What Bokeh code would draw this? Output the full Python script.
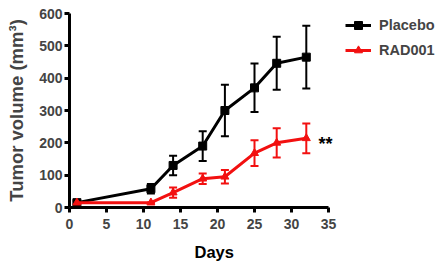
from bokeh.plotting import figure
from bokeh.models import Whisker, ColumnDataSource, Range1d, Legend, LegendItem, FixedTicker, TeeHead, Label, Title
from bokeh.embed import file_html
from bokeh.resources import INLINE

days = [1, 11, 14, 18, 21, 25, 28, 32]
placebo = [15, 58, 130, 190, 300, 370, 446, 465]
placebo_err = [5, 15, 30, 46, 80, 75, 82, 97]
rad001 = [15, 15, 46, 89, 95, 168, 200, 214]
rad001_err = [4, 0, 16, 16, 21, 40, 45, 46]
x_ticks = [0, 5, 10, 15, 20, 25, 30, 35]
y_ticks = [0, 100, 200, 300, 400, 500, 600]

BLACK = "#000000"
RED = "#f21010"
FONT = "Liberation Sans"

# layout (pixels)
W, H = 440, 272
LEFT, TOP, BOTTOM = 69, 13, 65
FRAME_W = W - LEFT
X_PX = 259.0   # pixels spanned by 0..35
x_end = x_ticks[-1] * FRAME_W / X_PX

p = figure(width=W, height=H, output_backend="svg", toolbar_location=None,
           x_range=Range1d(0, x_end), y_range=Range1d(y_ticks[0], y_ticks[-1]),
           min_border_left=LEFT, min_border_right=0, min_border_top=TOP, min_border_bottom=BOTTOM)
p.outline_line_color = None
p.grid.grid_line_color = None
p.background_fill_color = None
p.border_fill_color = None

for ax in (p.xaxis[0], p.yaxis[0]):
    ax.axis_line_width = 3
    ax.major_tick_line_width = 3
    ax.major_tick_in = 0
    ax.major_tick_out = 5
    ax.minor_tick_line_color = None
    ax.major_label_text_font = FONT
    ax.major_label_text_font_style = "bold"
    ax.major_label_text_font_size = "14px"
    ax.axis_label_text_font = FONT
    ax.axis_label_text_font_style = "bold"
p.yaxis.axis_label_text_font_size = "18.5px"
p.xaxis.ticker = FixedTicker(ticks=x_ticks)
p.yaxis.ticker = FixedTicker(ticks=y_ticks)
p.xaxis.bounds = (x_ticks[0], x_ticks[-1])
p.yaxis.axis_label = "Tumor volume (mm³)"
p.yaxis.axis_label_standoff = 9
p.xaxis.major_label_standoff = 6
p.yaxis.major_label_standoff = 2

# x-axis title, centred under the visible 0..35 axis
p.add_layout(Title(text="Days", align="left", offset=125, standoff=18, text_font=FONT,
                   text_font_style="bold", text_font_size="16.5px", text_color=BLACK), "below")

def series(vals, errs, color, marker, msize):
    src = ColumnDataSource(dict(x=days, y=vals,
                                lo=[v - e for v, e in zip(vals, errs)],
                                hi=[v + e for v, e in zip(vals, errs)]))
    w = Whisker(source=src, base="x", upper="hi", lower="lo", line_color=color, line_width=2,
                upper_head=TeeHead(size=8, line_color=color, line_width=2),
                lower_head=TeeHead(size=8, line_color=color, line_width=2))
    p.add_layout(w)
    l = p.line("x", "y", source=src, line_color=color, line_width=3)
    s = p.scatter("x", "y", source=src, marker=marker, size=msize, fill_color=color, line_color=color)
    return [l, s]

r1 = series(placebo, placebo_err, BLACK, "square", 8)
r2 = series(rad001, rad001_err, RED, "triangle", 8)

legend = Legend(items=[LegendItem(label="Placebo", renderers=r1),
                       LegendItem(label="RAD001", renderers=r2)],
                location=(276, 147), background_fill_alpha=0, border_line_color=None,
                label_text_font=FONT, label_text_font_style="bold", label_text_font_size="14.5px",
                glyph_width=26, glyph_height=20, spacing=5, padding=0, margin=0, label_standoff=8)
p.add_layout(legend)

p.add_layout(Label(x=days[-1] + 1.65, y=rad001[-1], y_offset=4, text="**", text_font=FONT,
                   text_font_style="bold", text_font_size="18px", text_baseline="top",
                   text_color=BLACK))

open("out.html", "w").write(file_html(p, INLINE))
